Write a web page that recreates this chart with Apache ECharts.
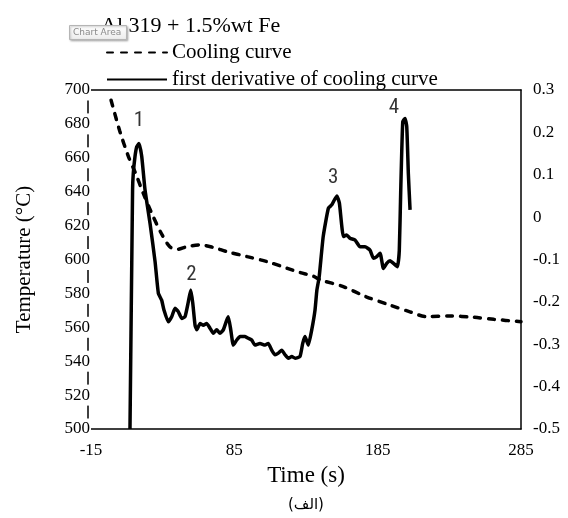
<!DOCTYPE html>
<html>
<head>
<meta charset="utf-8">
<script src="https://cdn.jsdelivr.net/npm/echarts@6/dist/echarts.min.js"></script>
<style>html,body{margin:0;padding:0;background:#fff}#c{width:568px;height:518px}</style>
</head>
<body>
<div id="c"></div>
<script>
// Cooling curve (left axis, °C)
var coolTime = [-1, 5, 11, 16, 21.5, 27.5, 34, 40, 45, 52, 61, 70, 80, 94, 108, 122, 131, 140, 145, 161, 177, 194, 208, 219, 235, 252, 266, 285];
var coolTemp = [694, 676, 661, 651, 639, 627, 615.5, 607.5, 606, 607.6, 608.6, 607.2, 604.6, 601.7, 598.7, 594.8, 592.3, 590.2, 588, 584, 578, 573, 569, 566.3, 566.7, 565.9, 564.7, 563.3];
// First derivative (right axis)
var derTime = [12.2, 14.0, 14.5, 15.7, 16.9, 18.5, 20.4, 22.7, 26.2, 29.7, 32.0, 34.3, 35.9, 38.9, 41.3, 43.6, 45.9, 48.3, 50.6, 52.9, 54.6, 56.0, 57.6, 58.8, 61.1, 63.4, 65.7, 68.0, 70.3, 72.7, 75.0, 77.3, 79.7, 80.8, 82.5, 84.3, 86.7, 89.0, 92.5, 94.8, 97.1, 99.4, 102.9, 106.4, 108.7, 111.1, 113.4, 115.7, 118.1, 120.4, 122.7, 125.1, 127.4, 130.8, 132.7, 134.3, 136.6, 139.0, 141.3, 142.6, 144.2, 147.0, 150.6, 153.0, 156.5, 158.3, 161.1, 163.4, 165.7, 169.2, 172.7, 176.2, 179.7, 182.0, 184.4, 186.7, 189.0, 191.3, 193.7, 196.0, 198.8, 200.1, 201.1, 202.5, 204.1, 205.3, 206.4, 207.6];
var derValue = [-0.5, 0.064, 0.103, 0.143, 0.166, 0.174, 0.143, 0.064, -0.015, -0.105, -0.18, -0.196, -0.219, -0.247, -0.235, -0.215, -0.223, -0.239, -0.235, -0.200, -0.172, -0.203, -0.255, -0.266, -0.251, -0.255, -0.251, -0.262, -0.274, -0.266, -0.274, -0.266, -0.243, -0.235, -0.266, -0.302, -0.290, -0.282, -0.282, -0.286, -0.290, -0.302, -0.298, -0.302, -0.298, -0.314, -0.325, -0.321, -0.314, -0.325, -0.333, -0.329, -0.333, -0.329, -0.298, -0.282, -0.302, -0.266, -0.219, -0.172, -0.141, -0.046, 0.021, 0.029, 0.050, 0.033, -0.046, -0.042, -0.050, -0.054, -0.070, -0.070, -0.078, -0.097, -0.093, -0.085, -0.121, -0.109, -0.103, -0.109, -0.117, -0.078, 0.064, 0.225, 0.233, 0.213, 0.103, 0.017];
// Peak annotations (right axis coordinates)
var peakLabels = ['1', '2', '3', '4'];
var peakTime = [18.5, 55.1, 153.9, 196.4];
var peakValue = [0.227, -0.135, 0.092, 0.258];

var seriesNames = ['Cooling curve', 'first derivative of cooling curve'];
var serif = "'Liberation Serif','Times New Roman',serif";

function zip(a, b) { return a.map(function (v, i) { return [v, b[i]]; }); }

var chart = echarts.init(document.getElementById('c'));
chart.setOption({
  animation: false,
  backgroundColor: '#fff',
  title: {
    text: 'Al 319 + 1.5%wt Fe', left: 96, top: 10,
    textStyle: { fontFamily: serif, fontSize: 22, fontWeight: 'normal', color: '#000' }
  },
  legend: {
    data: seriesNames, orient: 'vertical', left: 106, top: 42, padding: 0,
    itemWidth: 60, itemHeight: 14, itemGap: 6,
    itemStyle: { opacity: 0 },
    textStyle: { fontFamily: serif, fontSize: 21, color: '#000', lineHeight: 21 }
  },
  grid: { left: 91, right: 47, top: 90, bottom: 89 },
  xAxis: [{
    type: 'value', min: -15, max: 285, interval: 100,
    axisLine: { show: true, onZero: false, lineStyle: { color: '#000', width: 1.5 } },
    axisTick: { show: false }, splitLine: { show: false },
    axisLabel: { fontFamily: serif, fontSize: 17, color: '#000', margin: 13 },
    name: 'Time (s)', nameLocation: 'middle', nameGap: 35,
    nameTextStyle: { fontFamily: serif, fontSize: 23, color: '#000' }
  }, {
    type: 'value', min: -15, max: 285, position: 'top',
    axisLine: { show: true, onZero: false, lineStyle: { color: '#000', width: 1.5 } },
    axisTick: { show: false }, axisLabel: { show: false }, splitLine: { show: false }
  }],
  yAxis: [{
    type: 'value', min: 500, max: 700, interval: 20, position: 'left', offset: 3,
    axisLine: { show: true, onZero: false, lineStyle: { color: '#000', width: 1.5 } },
    axisTick: { show: false }, splitLine: { show: false },
    axisLabel: { fontFamily: serif, fontSize: 17, color: '#000', margin: -3, backgroundColor: '#fff', padding: [2, 1] },
    name: 'Temperature (°C)', nameLocation: 'middle', nameRotate: 90, nameGap: 53,
    nameTextStyle: { fontFamily: serif, fontSize: 21, color: '#000' }
  }, {
    type: 'value', min: -0.5, max: 0.3, interval: 0.1, position: 'right',
    axisLine: { show: true, onZero: false, lineStyle: { color: '#000', width: 1.5 } },
    axisTick: { show: false }, splitLine: { show: false },
    axisLabel: { fontFamily: serif, fontSize: 17, color: '#000', margin: 12,
      formatter: function (v) { return String(+v.toFixed(1)); } }
  }],
  series: [{
    name: seriesNames[0], type: 'line', xAxisIndex: 0, yAxisIndex: 0,
    data: zip(coolTime, coolTemp), symbol: 'none', smooth: 0.3,
    lineStyle: { color: '#000', width: 3.5, type: [6, 8], cap: 'round' },
    itemStyle: { color: '#000' }
  }, {
    name: seriesNames[1], type: 'line', xAxisIndex: 0, yAxisIndex: 1,
    data: zip(derTime, derValue), symbol: 'none', smooth: 0.15,
    lineStyle: { color: '#000', width: 3.5, join: 'round' },
    itemStyle: { color: '#000' }
  }, {
    name: 'peaks', type: 'scatter', xAxisIndex: 0, yAxisIndex: 1,
    data: zip(peakTime, peakValue), symbolSize: 1,
    itemStyle: { color: 'rgba(0,0,0,0)' },
    label: { show: true, position: 'inside',
      formatter: function (p) { return peakLabels[p.dataIndex]; },
      fontFamily: "'Liberation Sans Narrow','Roboto Condensed','DejaVu Sans Condensed',sans-serif", fontSize: 21, color: '#000' }
  }],
  graphic: [{
    type: 'rect', left: 69, top: 25, z: 100,
    shape: { width: 57, height: 14 },
    style: { fill: new echarts.graphic.LinearGradient(0, 0, 0, 1, [{ offset: 0, color: '#ffffff' }, { offset: 1, color: '#ececec' }]),
      stroke: '#b5b5b5', lineWidth: 1, shadowBlur: 2, shadowOffsetX: 1, shadowOffsetY: 1, shadowColor: 'rgba(0,0,0,0.25)' }
  }, {
    type: 'text', left: 73, top: 28, z: 101,
    style: { text: 'Chart Area', fontSize: 9, fill: '#8a8a8a', fontFamily: "'DejaVu Sans',sans-serif" }
  }, {
    type: 'text', left: 288, top: 498, z: 10,
    style: { text: '(الف)', fontSize: 15, fill: '#000', fontFamily: "'DejaVu Sans',serif" }
  }]
});
</script>
</body>
</html>
